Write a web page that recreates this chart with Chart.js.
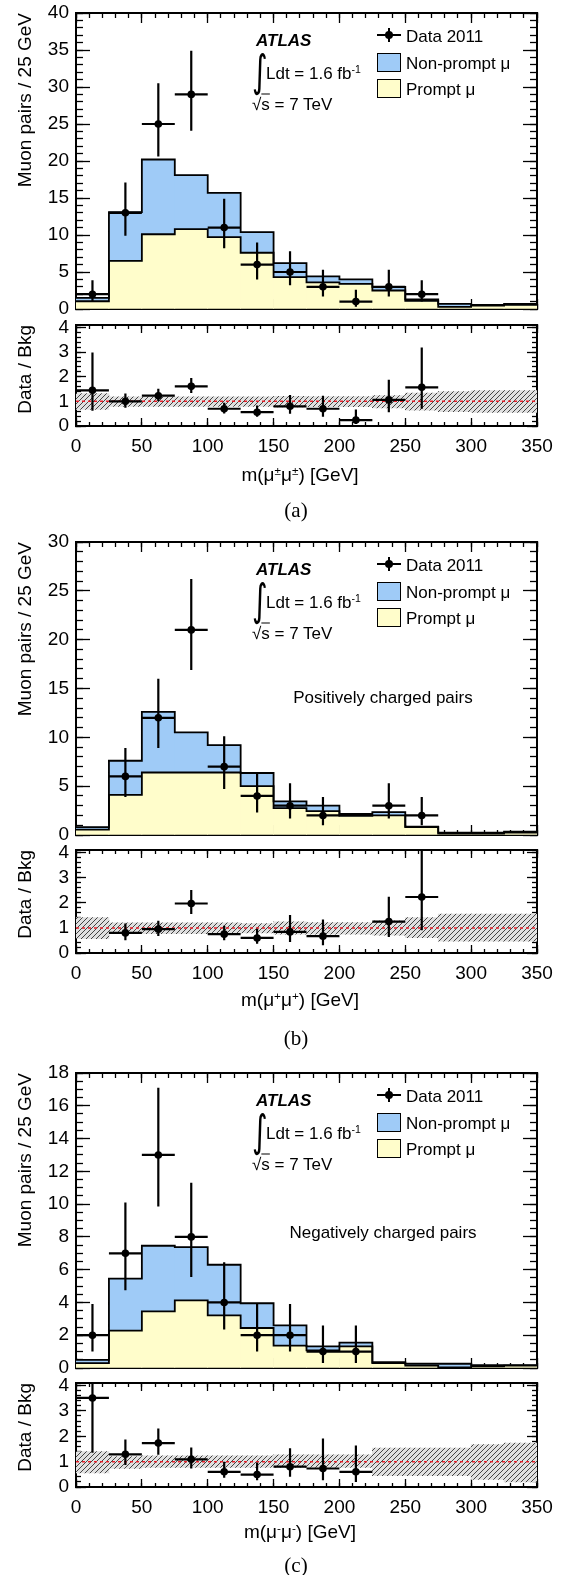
<!DOCTYPE html>
<html>
<head>
<meta charset="utf-8">
<script src="https://cdn.jsdelivr.net/npm/chart.js@4.4.1/dist/chart.umd.min.js"></script>
<style>
  body { margin: 0; background: #fff; }
  #page { position: relative; width: 568px; height: 1575px; overflow: hidden; background: #fff;
          font-family: "Liberation Sans", Arial, Helvetica, sans-serif; color: #000; }
  canvas { position: absolute; left: 0; }
  .txt { position: absolute; white-space: nowrap; transform: translateY(-50%); font-size: 17px; line-height: 1; }
  .ctr { transform: translate(-50%, -50%); }
  .sup { font-size: 0.62em; position: relative; top: -0.55em; }
  .blk { position: absolute; background: #000; }
  .lbox { position: absolute; box-sizing: border-box; border: 1.5px solid #000; }
</style>
</head>
<body>
<div id="page"></div>
<script>
// ===========================
// DATA
// ===========================
const binEdges   = [0, 25, 50, 75, 100, 125, 150, 175, 200, 225, 250, 275, 300, 325, 350];
const binCenters = [12.5, 37.5, 62.5, 87.5, 112.5, 137.5, 162.5, 187.5, 212.5, 237.5, 262.5, 287.5, 312.5, 337.5];
const xTicks     = [0, 50, 100, 150, 200, 250, 300, 350];
const ratioTicks = [0, 1, 2, 3, 4];

// (a) m(mu± mu±)
const yTicksA   = [0, 5, 10, 15, 20, 25, 30, 35, 40];
const promptA   = [1.05, 6.5, 10.1, 10.8, 9.7, 7.6, 4.3, 3.6, 3.4, 2.5, 1.1, 0.3, 0.45, 0.55];
const totalA    = [1.5, 13.1, 20.2, 18.1, 15.7, 10.4, 6.2, 4.4, 4.0, 3.0, 1.3, 0.68, 0.55, 0.7];
const dataA     = [2, 13, 25, 29, 11, 6, 5, 3, 1, 3, 2, null, null, null];
const dataLoA   = [1.0, 9.9, 20.6, 24.1, 8.2, 4.0, 3.2, 1.7, 0.3, 1.7, 1.0, null, null, null];
const dataHiA   = [3.9, 17.1, 30.5, 34.9, 14.9, 9.0, 7.8, 5.3, 2.6, 5.3, 3.9, null, null, null];
const ratioA    = [1.45, 1.0, 1.23, 1.61, 0.7, 0.56, 0.8, 0.7, 0.24, 1.06, 1.57, null, null, null];
const ratioLoA  = [0.62, 0.74, 1.0, 1.34, 0.51, 0.38, 0.5, 0.38, 0.08, 0.56, 0.7, null, null, null];
const ratioHiA  = [2.98, 1.32, 1.51, 1.95, 0.94, 0.83, 1.26, 1.23, 0.67, 1.88, 3.19, null, null, null];
const bandLoA   = [0.67, 0.79, 0.79, 0.79, 0.79, 0.79, 0.77, 0.78, 0.78, 0.73, 0.64, 0.58, 0.55, 0.55];
const bandHiA   = [1.32, 1.18, 1.18, 1.18, 1.18, 1.18, 1.2, 1.19, 1.19, 1.23, 1.34, 1.4, 1.44, 1.44];

// (b) m(mu+ mu+)
const yTicksB   = [0, 5, 10, 15, 20, 25, 30];
const promptB   = [0.55, 4.1, 6.4, 6.4, 6.4, 5.0, 2.75, 2.45, 1.95, 2.0, 0.8, 0.15, 0.15, 0.25];
const totalB    = [0.8, 7.6, 12.6, 10.5, 9.2, 6.35, 3.45, 3.0, 2.15, 2.35, 0.85, 0.25, 0.25, 0.35];
const dataB     = [null, 6, 12, 21, 7, 4, 3, 2, null, 3, 2, null, null, null];
const dataLoB   = [null, 3.9, 8.9, 16.9, 4.7, 2.3, 1.7, 1.0, null, 1.7, 1.0, null, null, null];
const dataHiB   = [null, 8.9, 16.0, 26.2, 10.1, 6.4, 5.3, 3.9, null, 5.3, 3.9, null, null, null];
const ratioB    = [null, 0.8, 0.95, 1.97, 0.75, 0.6, 0.84, 0.67, null, 1.25, 2.23, null, null, null];
const ratioLoB  = [null, 0.51, 0.68, 1.55, 0.51, 0.37, 0.44, 0.31, null, 0.64, 0.91, null, null, null];
const ratioHiB  = [null, 1.17, 1.28, 2.51, 1.08, 0.97, 1.51, 1.33, null, 2.24, 4.6, null, null, null];
const bandLoB   = [0.57, 0.77, 0.77, 0.77, 0.77, 0.8, 0.75, 0.75, 0.75, 0.71, 0.61, 0.47, 0.47, 0.47];
const bandHiB   = [1.41, 1.2, 1.2, 1.2, 1.2, 1.17, 1.24, 1.21, 1.21, 1.28, 1.41, 1.55, 1.55, 1.55];

// (c) m(mu- mu-)
const yTicksC   = [0, 2, 4, 6, 8, 10, 12, 14, 16, 18];
const promptC   = [0.3, 2.28, 3.46, 4.13, 3.21, 2.44, 1.36, 1.08, 1.32, 0.3, 0.14, 0.03, 0.1, 0.15];
const totalC    = [0.5, 5.45, 7.46, 7.38, 6.3, 3.95, 2.6, 1.32, 1.55, 0.35, 0.26, 0.26, 0.18, 0.18];
const dataC     = [2, 7, 13, 8, 4, 2, 2, 1, 1, null, null, null, null, null];
const dataLoC   = [1.0, 4.74, 9.86, 5.55, 2.35, 1.0, 1.0, 0.3, 0.3, null, null, null, null, null];
const dataHiC   = [3.9, 10.1, 17.1, 11.3, 6.45, 3.9, 3.9, 2.6, 2.6, null, null, null, null, null];
const ratioC    = [3.51, 1.29, 1.73, 1.09, 0.6, 0.49, 0.8, 0.73, 0.6, null, null, null, null, null];
const ratioLoC  = [1.35, 0.87, 1.27, 0.73, 0.36, 0.27, 0.4, 0.27, 0.2, null, null, null, null, null];
const ratioHiC  = [6.8, 1.87, 2.31, 1.56, 1.0, 0.97, 1.53, 1.91, 1.64, null, null, null, null, null];
const bandLoC   = [0.56, 0.73, 0.77, 0.77, 0.77, 0.77, 0.77, 0.77, 0.77, 0.45, 0.45, 0.45, 0.3, 0.2];
const bandHiC   = [1.4, 1.2, 1.23, 1.23, 1.23, 1.23, 1.27, 1.27, 1.27, 1.53, 1.53, 1.53, 1.67, 1.73];

// ===========================
// STYLE
// ===========================
const FONT = '"Liberation Sans", Arial, Helvetica, sans-serif';
const BLUE = '#9fcbf7';
const YELLOW = '#fffdcb';
const page = document.getElementById('page');

function hatchPattern() {
  const c = document.createElement('canvas');
  c.width = 5; c.height = 5;
  const g = c.getContext('2d');
  g.fillStyle = '#e0e0e0';
  g.fillRect(0, 0, 5, 5);
  g.strokeStyle = '#444';
  g.lineWidth = 1;
  g.beginPath();
  g.moveTo(0, 5); g.lineTo(5, 0);
  g.moveTo(-1, 1); g.lineTo(1, -1);
  g.moveTo(4, 6); g.lineTo(6, 4);
  g.stroke();
  return g.createPattern(c, 'repeat');
}
const HATCH = hatchPattern();

function listTicks(min, max, step) {
  const out = [];
  for (let v = min; v <= max + 1e-9; v += step) out.push(Math.round(v * 1000) / 1000);
  return out;
}

// one axis, ticks pointing inward (ROOT style)
function axis(dir, position, max, ticks, len, size, weight, extra) {
  return Object.assign({
    type: 'linear', axis: dir, position, min: 0, max, offset: false, weight,
    afterBuildTicks: s => { s.ticks = ticks.map(v => ({ value: v })); },
    afterFit: s => {
      if (dir === 'x') s.height = size; else s.width = size;
      s.paddingLeft = s.paddingRight = s.paddingTop = s.paddingBottom = 0;
    },
    grid: { drawOnChartArea: false, offset: false, tickLength: -len, tickWidth: 1.3, tickColor: '#000' },
    border: { display: false },
    ticks: { display: false }
  }, extra);
}

function scalesFor(o) {
  const frame = { display: true, color: '#000', width: 2 };
  const tickFont = { family: FONT, size: 19 };
  return {
    x: axis('x', 'bottom', 350, xTicks, o.xLen, o.xLabels ? 42 : 0, 1, {
      border: frame,
      ticks: { display: o.xLabels, padding: o.xLen + 9, font: tickFont, color: '#000',
               autoSkip: false, maxRotation: 0, callback: v => String(v) }
    }),
    xm:  axis('x', 'bottom', 350, listTicks(0, 350, 10), o.xLen / 2, 0, 0),
    xt:  axis('x', 'top', 350, xTicks, o.xLen, 0, 1, { border: frame }),
    xtm: axis('x', 'top', 350, listTicks(0, 350, 10), o.xLen / 2, 0, 0),
    y: axis('y', 'left', o.ymax, o.yTicks, o.yLen, 76, 1, {
      border: frame,
      ticks: { display: true, padding: o.yLen + 7, font: tickFont, color: '#000',
               autoSkip: false, callback: v => String(v) },
      title: { display: true, text: o.yTitle, align: 'end', color: '#000',
               font: { family: FONT, size: 19 }, padding: { top: 14, bottom: 0 } }
    }),
    ym:  axis('y', 'left', o.ymax, listTicks(0, o.ymax, o.yMinor), o.yLen / 2, 0, 0),
    yr:  axis('y', 'right', o.ymax, o.yTicks, o.yLen, 0, 1, { border: frame }),
    yrm: axis('y', 'right', o.ymax, listTicks(0, o.ymax, o.yMinor), o.yLen / 2, 0, 0)
  };
}

function makeCanvas(top, height) {
  const c = document.createElement('canvas');
  c.width = 568; c.height = height;
  c.style.top = top + 'px';
  page.appendChild(c);
  return c;
}

function baseOptions(padTop, padBottom, scales) {
  return {
    responsive: false, animation: false, events: [],
    layout: { padding: { top: padTop, bottom: padBottom, left: 0, right: 31 } },
    plugins: { legend: { display: false }, tooltip: { enabled: false } },
    datasets: { bar: { grouped: false, categoryPercentage: 1, barPercentage: 1, borderWidth: 0 } },
    scales
  };
}

// histogram outline: value i held over [edge i, edge i+1]
function stepLine(vals) {
  const pts = vals.map((v, i) => ({ x: binEdges[i], y: v }));
  pts.push({ x: binEdges[binEdges.length - 1], y: vals[vals.length - 1] });
  return { type: 'line', data: pts, stepped: 'before', borderColor: '#000', borderWidth: 1.8,
           pointRadius: 0, xAxisID: 'x', yAxisID: 'y', order: 8 };
}

function errorLines(vals, lo, hi) {
  const pts = [];
  binCenters.forEach((c, i) => {
    if (vals[i] === null) return;
    pts.push({ x: c, y: lo[i] }, { x: c, y: hi[i] }, { x: c, y: null });
    pts.push({ x: binEdges[i], y: vals[i] }, { x: binEdges[i + 1], y: vals[i] }, { x: binEdges[i + 1], y: null });
  });
  return { type: 'line', data: pts, borderColor: '#000', borderWidth: 2.2, pointRadius: 0,
           spanGaps: false, xAxisID: 'x', yAxisID: 'y', order: 2 };
}

function markers(vals) {
  const pts = binCenters.map((c, i) => ({ x: c, y: vals[i] })).filter(p => p.y !== null);
  return { type: 'line', showLine: false, data: pts, pointRadius: 3.8, pointBackgroundColor: '#000',
           pointBorderWidth: 0, xAxisID: 'x', yAxisID: 'y', order: 1 };
}

function mainChart(g, d) {
  const padTop = 12, padBottom = 13;
  const cv = makeCanvas(g.main[0] - padTop, g.main[1] - g.main[0] + padTop + padBottom);
  new Chart(cv, {
    type: 'bar',
    data: { datasets: [
      { type: 'bar', data: binCenters.map((c, i) => ({ x: c, y: [0, d.prompt[i]] })),
        backgroundColor: YELLOW, xAxisID: 'x', yAxisID: 'y', order: 10 },
      { type: 'bar', data: binCenters.map((c, i) => ({ x: c, y: [d.prompt[i], d.total[i]] })),
        backgroundColor: BLUE, xAxisID: 'x', yAxisID: 'y', order: 9 },
      stepLine(d.total),
      stepLine(d.prompt),
      errorLines(d.data, d.lo, d.hi),
      markers(d.data)
    ] },
    options: baseOptions(padTop, padBottom, scalesFor({
      ymax: d.yTicks[d.yTicks.length - 1], yTicks: d.yTicks, yMinor: d.yMinor,
      yLen: 14, xLen: 10, xLabels: false, yTitle: 'Muon pairs / 25 GeV'
    }))
  });
}

function ratioChart(g, d) {
  const padTop = 10;
  const cv = makeCanvas(g.ratio[0] - padTop, g.ratio[1] - g.ratio[0] + padTop + 42);
  new Chart(cv, {
    type: 'bar',
    data: { datasets: [
      { type: 'bar', data: binCenters.map((c, i) => ({ x: c, y: [d.bandLo[i], d.bandHi[i]] })),
        backgroundColor: HATCH, xAxisID: 'x', yAxisID: 'y', order: 10 },
      { type: 'line', data: [{ x: 0, y: 1 }, { x: 350, y: 1 }], borderColor: '#e8202a', borderWidth: 1.5,
        borderDash: [3, 3], pointRadius: 0, xAxisID: 'x', yAxisID: 'y', order: 5 },
      errorLines(d.ratio, d.rlo, d.rhi),
      markers(d.ratio)
    ] },
    options: baseOptions(padTop, 0, scalesFor({
      ymax: 4.1, yTicks: ratioTicks, yMinor: 0.2,
      yLen: 10, xLen: 8, xLabels: true, yTitle: 'Data / Bkg'
    }))
  });
}

// ===========================
// TEXT OVERLAYS
// ===========================
function txt(html, x, y, css, cls) {
  const el = document.createElement('div');
  el.className = 'txt' + (cls ? ' ' + cls : '');
  el.innerHTML = html;
  el.style.left = x + 'px';
  el.style.top = y + 'px';
  Object.assign(el.style, css || {});
  page.appendChild(el);
  return el;
}
function rect(cls, x, y, w, h, css) {
  const el = document.createElement('div');
  el.className = cls;
  Object.assign(el.style, { left: x + 'px', top: y + 'px', width: w + 'px', height: h + 'px' }, css || {});
  page.appendChild(el);
}

function annotate(g, label) {
  const T = g.main[0];
  // ATLAS block
  txt('ATLAS', 256, T + 27, { fontWeight: 'bold', fontStyle: 'italic' });
  txt('&#8747;', 252, T + 58, { fontFamily: '"DejaVu Sans", sans-serif', fontSize: '30px', transform: 'translateY(-50%) scaleY(1.45)' });
  txt('Ldt = 1.6 fb<span class="sup">-1</span>', 266, T + 60);
  txt('&#8730;<span style="text-decoration: overline">s</span> = 7 TeV', 252, T + 91);
  // legend
  rect('blk', 377, T + 21, 24, 2);
  rect('blk', 388, T + 15, 2, 14);
  rect('blk', 385, T + 18, 8, 8, { borderRadius: '50%' });
  txt('Data 2011', 406, T + 23);
  rect('lbox', 377, T + 40, 24, 19, { background: BLUE });
  txt('Non-prompt &#956;', 406, T + 50);
  rect('lbox', 377, T + 66, 24, 19, { background: YELLOW });
  txt('Prompt &#956;', 406, T + 76);
  if (label) txt(label.text, 383, T + label.dy, {}, 'ctr');
  // x title and caption
  txt(g.xTitle, 300, g.xTitleY, { fontSize: '19px' }, 'ctr');
  txt(g.caption, 296, g.captionY, { fontFamily: '"Liberation Serif", "DejaVu Serif", serif', fontSize: '21px' }, 'ctr');
}

// ===========================
// BUILD
// ===========================
const panels = [
  { geo: { main: [13, 309], ratio: [325, 426], xTitleY: 474, captionY: 510, caption: '(a)',
           xTitle: 'm(&#956;<span class="sup">&#177;</span>&#956;<span class="sup">&#177;</span>) [GeV]' },
    d: { yTicks: yTicksA, yMinor: 1, prompt: promptA, total: totalA, data: dataA, lo: dataLoA, hi: dataHiA,
         ratio: ratioA, rlo: ratioLoA, rhi: ratioHiA, bandLo: bandLoA, bandHi: bandHiA },
    label: null },
  { geo: { main: [542, 835], ratio: [850, 953], xTitleY: 999, captionY: 1038, caption: '(b)',
           xTitle: 'm(&#956;<span class="sup">+</span>&#956;<span class="sup">+</span>) [GeV]' },
    d: { yTicks: yTicksB, yMinor: 1, prompt: promptB, total: totalB, data: dataB, lo: dataLoB, hi: dataHiB,
         ratio: ratioB, rlo: ratioLoB, rhi: ratioHiB, bandLo: bandLoB, bandHi: bandHiB },
    label: { text: 'Positively charged pairs', dy: 155 } },
  { geo: { main: [1073, 1368], ratio: [1383, 1487], xTitleY: 1531, captionY: 1565, caption: '(c)',
           xTitle: 'm(&#956;<span class="sup">-</span>&#956;<span class="sup">-</span>) [GeV]' },
    d: { yTicks: yTicksC, yMinor: 0.5, prompt: promptC, total: totalC, data: dataC, lo: dataLoC, hi: dataHiC,
         ratio: ratioC, rlo: ratioLoC, rhi: ratioHiC, bandLo: bandLoC, bandHi: bandHiC },
    label: { text: 'Negatively charged pairs', dy: 159 } }
];

panels.forEach(p => {
  mainChart(p.geo, p.d);
  ratioChart(p.geo, p.d);
  annotate(p.geo, p.label);
});
</script>
</body>
</html>
